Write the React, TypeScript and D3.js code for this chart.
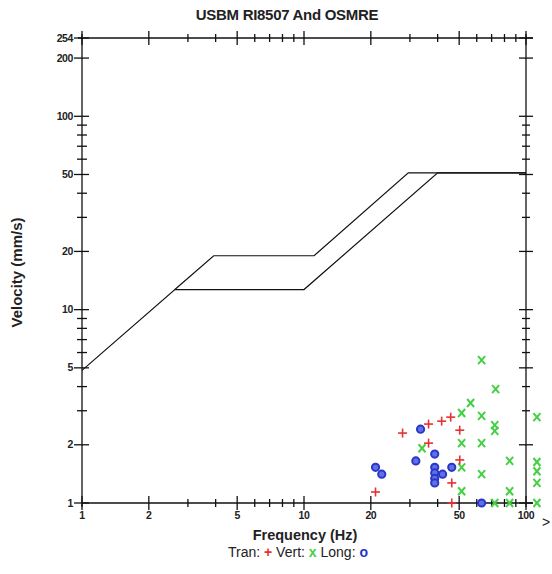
import React from "react";
import * as d3 from "d3";

const xMajor = [1, 2, 5, 10, 20, 50, 100];
const xMinor = [3, 4, 6, 7, 8, 9, 30, 40, 60, 70, 80, 90];
const yMajor = [1, 2, 5, 10, 20, 50, 100, 200, 254];
const yMinor = [3, 4, 6, 7, 8, 9, 30, 40, 60, 70, 80, 90];

const usbmFreq = [1, 2.62, 10, 40, 100];
const usbmVel = [4.85, 12.7, 12.7, 51, 51];
const osmreFreq = [2.62, 3.92, 11.1, 29.5, 100];
const osmreVel = [12.7, 19, 19, 51, 51];

const tranFreq = [27.8, 36.4, 41.7, 45.8, 50.3, 36.4, 50.3, 46.3, 21.0, 46.3];
const tranVel = [2.3, 2.56, 2.65, 2.78, 2.38, 2.04, 1.67, 1.27, 1.14, 1.0];

const vertFreq = [63.1, 73.0, 56.3, 51.3, 63.1, 72.3, 72.3, 112, 51.3, 63.1, 51.3, 84.4, 63.1, 51.3, 84.4, 112, 112, 112, 112, 72.3, 84.4, 34.0];
const vertVel = [5.48, 3.88, 3.29, 2.92, 2.82, 2.53, 2.36, 2.78, 2.04, 2.04, 1.53, 1.65, 1.41, 1.15, 1.15, 1.63, 1.46, 1.27, 1.0, 1.0, 1.0, 1.92];

const longFreq = [33.5, 38.8, 31.9, 21.0, 22.4, 38.8, 38.8, 38.8, 38.8, 42.1, 46.3, 63.1];
const longVel = [2.41, 1.79, 1.65, 1.53, 1.41, 1.53, 1.43, 1.34, 1.27, 1.41, 1.53, 1.0];

const RED = "#e53232";
const GREEN = "#44d044";
const BLUE = "#2a36c8";
const FONT = "'Liberation Sans', Arial, sans-serif";

export default function App() {
  const x = d3.scaleLog().domain([1, 100]).range([82, 526]);
  const y = d3.scaleLog().domain([1, 254]).range([503, 38]);
  const x0 = x(1), x1 = x(100), y0 = y(1), y1 = y(254);

  const line = d3
    .line<[number, number]>()
    .x((d) => x(d[0]))
    .y((d) => y(d[1]));

  const usbm = usbmFreq.map((f, i) => [f, usbmVel[i]] as [number, number]);
  const osmre = osmreFreq.map((f, i) => [f, osmreVel[i]] as [number, number]);

  const tickStyle = { stroke: "#111", strokeWidth: 1.3 };
  const labelStyle: React.CSSProperties = {
    fontFamily: FONT,
    fontSize: 10.5,
    fontWeight: "bold",
    fill: "#222",
    letterSpacing: -0.4,
  };

  return (
    <svg width={552} height={574} style={{ display: "block", position: "absolute", left: 0, top: 0 }}>
      <rect x={0} y={0} width={552} height={574} fill="#fff" />
      <text x={287} y={20} textAnchor="middle" style={{ fontFamily: FONT, fontSize: 15, fontWeight: "bold", fill: "#222", letterSpacing: -0.3 }}>
        USBM RI8507 And OSMRE
      </text>

      <line x1={x0} x2={x1 + 7} y1={y0} y2={y0} {...tickStyle} />
      <line x1={x0 - 4} x2={x1 + 7} y1={y1} y2={y1} {...tickStyle} />
      <line x1={x0} x2={x0} y1={y1 - 4} y2={y0 + 4} {...tickStyle} />
      <line x1={x1} x2={x1} y1={y1 - 4} y2={y0 + 4} {...tickStyle} />

      {xMajor.map((t) => (
        <g key={"xM" + t}>
          <line x1={x(t)} x2={x(t)} y1={y0 - 7} y2={y0 + 7} {...tickStyle} />
          <line x1={x(t)} x2={x(t)} y1={y1 - 7} y2={y1 + 7} {...tickStyle} />
          <text x={x(t)} y={y0 + 16} textAnchor="middle" style={labelStyle}>
            {t}
          </text>
        </g>
      ))}
      {xMinor.map((t) => (
        <g key={"xm" + t}>
          <line x1={x(t)} x2={x(t)} y1={y0 - 4} y2={y0 + 4} {...tickStyle} />
          <line x1={x(t)} x2={x(t)} y1={y1 - 4} y2={y1 + 4} {...tickStyle} />
        </g>
      ))}
      <text x={546} y={527} textAnchor="middle" style={{ fontFamily: FONT, fontSize: 14, fill: "#222" }}>
        {">"}
      </text>

      {yMajor.map((t) => (
        <g key={"yM" + t}>
          <line x1={x0 - 8} x2={x0 + 7} y1={y(t)} y2={y(t)} {...tickStyle} />
          <line x1={x1 - 7} x2={x1 + 7} y1={y(t)} y2={y(t)} {...tickStyle} />
          <text x={x0 - 9} y={y(t) + 3.5} textAnchor="end" style={labelStyle}>
            {t}
          </text>
        </g>
      ))}
      {yMinor.map((t) => (
        <g key={"ym" + t}>
          <line x1={x0 - 5} x2={x0 + 5} y1={y(t)} y2={y(t)} {...tickStyle} />
          <line x1={x1 - 4} x2={x1 + 4} y1={y(t)} y2={y(t)} {...tickStyle} />
        </g>
      ))}

      <path d={line(usbm) || ""} fill="none" stroke="#111" strokeWidth={1.2} />
      <path d={line(osmre) || ""} fill="none" stroke="#111" strokeWidth={1.2} />

      {vertFreq.map((f, i) => {
        const cx = x(f), cy = y(vertVel[i]);
        return (
          <g key={"v" + i} stroke={GREEN} strokeWidth={2}>
            <line x1={cx - 3.5} x2={cx + 3.5} y1={cy - 4} y2={cy + 4} />
            <line x1={cx - 3.5} x2={cx + 3.5} y1={cy + 4} y2={cy - 4} />
          </g>
        );
      })}

      {tranFreq.map((f, i) => {
        const cx = x(f), cy = y(tranVel[i]);
        return (
          <g key={"t" + i} stroke={RED} strokeWidth={1.6}>
            <line x1={cx - 4.5} x2={cx + 4.5} y1={cy} y2={cy} />
            <line x1={cx} x2={cx} y1={cy - 4.5} y2={cy + 4.5} />
          </g>
        );
      })}

      {longFreq.map((f, i) => (
        <circle key={"l" + i} cx={x(f)} cy={y(longVel[i])} r={3.6} fill="#6170e6" stroke={BLUE} strokeWidth={2} />
      ))}

      <text
        transform={`translate(22,${(y0 + y1) / 2 + 2}) rotate(-90)`}
        textAnchor="middle"
        style={{ fontFamily: FONT, fontSize: 15, fontWeight: "bold", fill: "#222" }}
      >
        Velocity (mm/s)
      </text>
      <text x={305} y={540} textAnchor="middle" style={{ fontFamily: FONT, fontSize: 14.5, fontWeight: "bold", fill: "#222" }}>
        Frequency (Hz)
      </text>
      <text x={298} y={557} textAnchor="middle" style={{ fontFamily: FONT, fontSize: 14, fill: "#222" }}>
        <tspan>Tran: </tspan>
        <tspan fill={RED} fontWeight="bold">+</tspan>
        <tspan>  Vert: </tspan>
        <tspan fill={GREEN} fontWeight="bold">x</tspan>
        <tspan>  Long: </tspan>
        <tspan fill={BLUE} fontWeight="bold">o</tspan>
      </text>
    </svg>
  );
}
